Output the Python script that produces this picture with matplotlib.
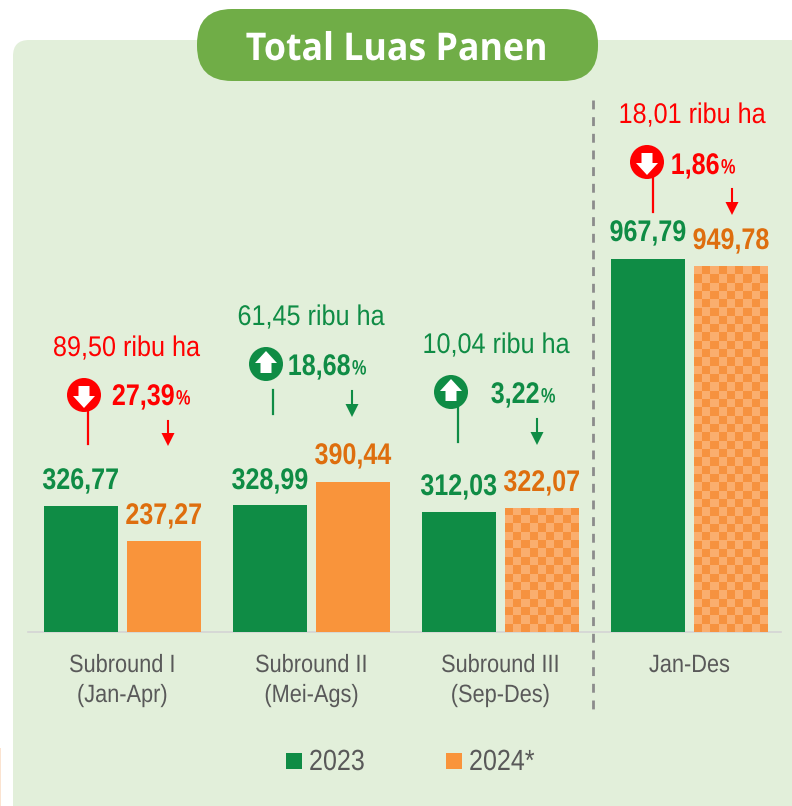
import numpy as np
import matplotlib
matplotlib.use('Agg')
import matplotlib.pyplot as plt
from matplotlib.patches import FancyBboxPatch, Circle, Polygon, Rectangle
from matplotlib.patheffects import AbstractPathEffect
from matplotlib.transforms import Affine2D

W, H = 792, 806
categories = ['Subround I\n(Jan-Apr)', 'Subround II\n(Mei-Ags)', 'Subround III\n(Sep-Des)', 'Jan-Des']
v2023 = [326.77, 328.99, 312.03, 967.79]
v2024 = [237.27, 390.44, 322.07, 949.78]
lab2023 = ['326,77', '328,99', '312,03', '967,79']
lab2024 = ['237,27', '390,44', '322,07', '949,78']
delta = ['89,50 ribu ha', '61,45 ribu ha', '10,04 ribu ha', '18,01 ribu ha']
pct = ['27,39', '18,68', '3,22', '1,86']
up = [False, True, True, False]
hatched = [False, False, True, True]

GREEN = '#0F8C45'; ORANGE = '#F9943B'; DORANGE = '#DE6E0E'; RED = '#FF0000'
FONT = 'Liberation Sans'


class Squeeze(AbstractPathEffect):
    """Draw text narrower (the reference uses a condensed face)."""
    def __init__(self, f, anchor):
        super().__init__()
        self.f, self.anchor = f, anchor

    def draw_path(self, renderer, gc, tpath, affine, rgbFace=None):
        xs = tpath.vertices[:, 0]
        c = {'center': (xs.min()+xs.max())/2, 'left': xs.min(), 'right': xs.max()}[self.anchor]
        t = Affine2D().translate(-c, 0).scale(self.f, 1).translate(c, 0)
        renderer.draw_path(gc, tpath, t + affine, rgbFace)


fig = plt.figure(figsize=(W/100, H/100), dpi=100, facecolor='white')
bg = fig.add_axes([0, 0, 1, 1]); bg.set_xlim(0, W); bg.set_ylim(H, 0); bg.axis('off')
bg.add_patch(Rectangle((0, 748), 1, 58, fc='#FBE3D0', ec='none'))
bg.add_patch(FancyBboxPatch((13, 40), 860, 860, boxstyle='round,pad=0,rounding_size=16', fc='#E2EFDA', ec='none'))
bg.add_patch(FancyBboxPatch((197, 9), 401, 72, boxstyle='round,pad=0,rounding_size=35', fc='#70AD47', ec='none'))
bg.text(397, 50, 'Total Luas Panen', color='white', fontsize=27.5, fontweight='bold', family='Open Sans',
        ha='center', va='center', path_effects=[Squeeze(0.935, 'center')])
bg.plot([28, 781], [632, 632], color='#D4D4D4', lw=1.2)
bg.plot([593, 593], [100, 716], color='#8C8C8C', lw=2, dashes=(3.2, 2.8))

# data axes: x index -> pixels, y value -> pixels
sx = 189.0; x0 = 122.5; sy = 0.3854; y0 = 632
ax = fig.add_axes([0, 0, 1, 1]); ax.patch.set_alpha(0); ax.axis('off')
x = np.arange(len(categories)); off = 41.5/sx; bw = 74/sx
ax.bar(x-off, v2023, bw, color=GREEN)
bars = ax.bar(x+off, v2024, bw, color=ORANGE)
for b, h in zip(bars, hatched):
    if h:
        n = int(b.get_height()*sy/8.3)+1
        img = np.indices((n, 9)).sum(axis=0) % 2
        im = ax.imshow(img, extent=(b.get_x(), b.get_x()+b.get_width(), 0, n*8.3/sy), origin='lower',
                       cmap=matplotlib.colors.ListedColormap(['#F6923F', '#FAAE6E']), aspect='auto',
                       interpolation='bilinear', zorder=3)
        im.set_clip_path(b)
ax.set_xlim(-x0/sx, (W-x0)/sx); ax.set_ylim((y0-H)/sy, y0/sy)


def T(xp, yp, s, f=0.84, **k):
    k.setdefault('family', FONT); k.setdefault('ha', 'center'); k.setdefault('va', 'center')
    return ax.text((xp-x0)/sx, (y0-yp)/sy, s, path_effects=[Squeeze(f, k['ha'])], zorder=6, **k)


lab_y23 = [481, 481, 487, 233]; lab_y24 = [516, 456, 483, 241]
for i in range(4):
    cx = x0+sx*i
    T(cx-41.5, lab_y23[i], lab2023[i], color=GREEN, fontsize=21.5, fontweight='bold', f=0.84)
    T(cx+41.5, lab_y24[i], lab2024[i], color=DORANGE, fontsize=21.5, fontweight='bold', f=0.84)
    parts = categories[i].split('\n')
    T(cx, 665, parts[0], color='#595959', fontsize=18, f=0.87)
    if len(parts) > 1:
        T(cx, 695, parts[1], color='#595959', fontsize=18, f=0.87)

dx = [126.5, 311, 496, 692]; dy = [349, 318, 346, 116]
cc = [(84, 395), (266, 364), (451, 392), (647, 162)]
stem = [(88, 410, 444), (273, 390, 414), (458, 408, 442), (653, 178, 212)]
px = [175, 351, 540, 720]; py = [397, 367, 395, 166]
arrow = [(168, 421, 446), (352, 391, 417), (537, 419, 445), (732, 189, 215)]
for i in range(4):
    c = GREEN if up[i] else RED
    T(dx[i], dy[i], delta[i], color=c, fontsize=20.5, f=0.885)
    bg.add_patch(Circle(cc[i], 17, fc=c, ec='none', zorder=4))
    X, Y = cc[i]
    s = 1 if up[i] else -1
    bg.add_patch(Polygon([(X, Y-13*s), (X+11, Y-1*s), (X+5.5, Y-1*s), (X+5.5, Y+9*s), (X-5.5, Y+9*s),
                          (X-5.5, Y-1*s), (X-11, Y-1*s)], fc='white', ec='none', zorder=5))
    sx_, y1, y2 = stem[i]
    bg.plot([sx_, sx_], [y1, y2], color=c, lw=1.6)
    ax_, a1, a2 = arrow[i]
    bg.plot([ax_, ax_], [a1, a2-10], color=c, lw=1.5)
    bg.add_patch(Polygon([(ax_-6.5, a2-13), (ax_+6.5, a2-13), (ax_, a2)], fc=c, ec='none'))
    T(px[i], py[i], pct[i], color=c, fontsize=21.5, fontweight='bold', ha='right', f=0.84)
    T(px[i]+1, py[i]+2, '%', color=c, fontsize=15, fontweight='bold', ha='left', f=0.78)

bg.add_patch(Rectangle((286, 753), 16, 16, fc=GREEN, ec='none'))
bg.add_patch(Rectangle((446, 753), 16, 16, fc=ORANGE, ec='none'))
T(309, 762, '2023', color='#595959', fontsize=21, ha='left', f=0.86)
T(469, 762, '2024*', color='#595959', fontsize=21, ha='left', f=0.86)
fig.savefig('out.png', dpi=100)
